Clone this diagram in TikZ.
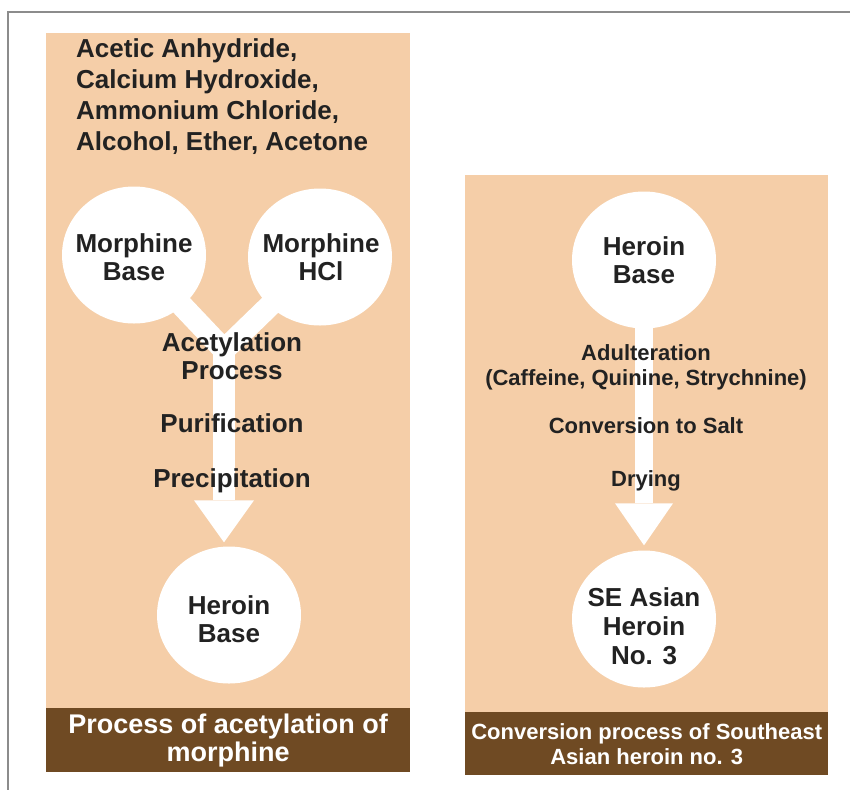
\documentclass[tikz,border=0pt]{standalone}
\usepackage{fontspec}
\setmainfont{Liberation Sans}
\usetikzlibrary{arrows.meta, positioning, shapes.geometric, calc}
\definecolor{peach}{RGB}{245, 206, 168}
\definecolor{umber}{RGB}{111, 74, 35}
\definecolor{framegray}{RGB}{140, 140, 140}
\definecolor{inkgray}{RGB}{34, 34, 34}
\pgfdeclarelayer{panels}
\pgfdeclarelayer{flows}
\pgfsetlayers{panels,flows,main}

\begin{document}
\begin{tikzpicture}[x=1pt, y=-1pt,
  panel/.style={fill=peach, inner sep=0pt, anchor=north west},
  footbar/.style={fill=umber, text=white, inner sep=0pt, align=center, anchor=south west},
  bubble/.style={ellipse, fill=white, inner sep=0pt, minimum width=144pt, minimum height=137pt},
  bigtext/.style={font=\fontsize{26}{28}\selectfont\bfseries, text=inkgray, align=center, inner sep=0pt},
  smalltext/.style={font=\fontsize{22}{25}\selectfont\bfseries, text=inkgray, align=center, inner sep=0pt},
  flow/.style={draw=white, line cap=butt, line join=miter}]
  \useasboundingbox (0,0) rectangle (850,790);
  \draw[framegray, line width=1.2pt] (850,12) -- (8,12) -- (8,790);

  \begin{pgfonlayer}{panels}
    \node[panel, minimum width=364pt, minimum height=739pt] (acetyl) at (46,33) {};
    \node[panel, minimum width=363pt, minimum height=600pt] (convert) at (465,175) {};
  \end{pgfonlayer}

  % acetylation of morphine
  \node[footbar, minimum width=364pt, minimum height=64pt, font=\fontsize{27}{28}\selectfont\bfseries]
    (acetylfoot) at (acetyl.south west) {Process of acetylation of\\morphine};
  \node[bigtext, align=left, anchor=base west, font=\fontsize{26}{31}\selectfont\bfseries] (reagents) at (76,150)
    {Acetic Anhydride,\\Calcium Hydroxide,\\Ammonium Chloride,\\Alcohol, Ether, Acetone};
  \node[bubble] (mbase) at (134,255) {};
  \node[bigtext] (mbaselbl) at (134,257) {Morphine\\Base};
  \node[bubble] (mhcl) at (320,257) {};
  \node[bigtext] (mhcllbl) at (321,257) {Morphine\\HCl};
  \node[bubble] (hbase) at (229,615) {};
  \node[bigtext] (hbaselbl) at (229,619) {Heroin\\Base};
  \coordinate (merge) at (224,350);
  \node[bigtext, anchor=base] (acetproc) at (232,379) {Acetylation\\Process};
  \node[bigtext, anchor=base] (purif) at (232,432) {Purification};
  \node[bigtext, anchor=base] (precip) at (232,487) {Precipitation};

  % conversion to heroin no. 3
  \node[footbar, minimum width=363pt, minimum height=63pt, font=\fontsize{22}{25}\selectfont\bfseries]
    (convertfoot) at (convert.south west) {Conversion process of Southeast\\Asian heroin no. 3};
  \node[bubble] (hbasetwo) at (644,260) {};
  \node[bigtext] (hbasetwolbl) at (hbasetwo) {Heroin\\Base};
  \node[bubble] (seasia) at (644,619) {};
  \node[bigtext, font=\fontsize{26}{29}\selectfont\bfseries] (seasialbl) at (644,626) {SE Asian\\Heroin\\No. 3};
  \node[smalltext, anchor=base] (adult) at (646,385) {Adulteration\\(Caffeine, Quinine, Strychnine)};
  \node[smalltext, anchor=base] (salt) at (646,433) {Conversion to Salt};
  \node[smalltext, anchor=base] (dry) at (646,486) {Drying};

  \begin{pgfonlayer}{flows}
    \draw[flow, line width=22pt] (mbase.center) -- (merge) -- (mhcl.center);
    \draw[flow, line width=22pt, -{Triangle[width=60pt, length=42pt, line width=0pt]}, shorten >=4pt]
      (merge) -- (merge |- hbase.north);
    \draw[flow, line width=18pt, -{Triangle[width=58pt, length=42pt, line width=0pt]}, shorten >=5pt]
      (hbasetwo.center) -- (seasia.north);
  \end{pgfonlayer}
\end{tikzpicture}
\end{document}
